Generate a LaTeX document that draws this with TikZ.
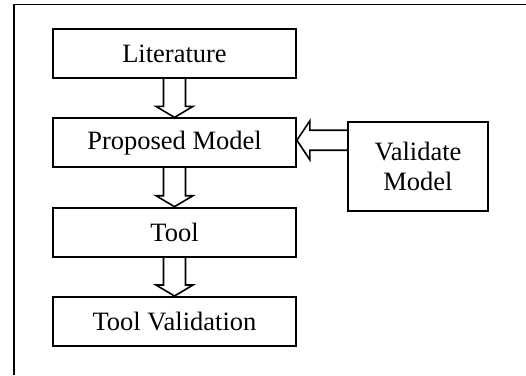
\documentclass[tikz,border=0pt]{standalone}
\usepackage{fontspec}
\setmainfont{Liberation Serif}
\usepackage{tikz}
\usetikzlibrary{positioning, calc}

% hollow arrow pointing down from one box to the next
\newcommand{\hollowdown}[2]{%
  \draw[hollow] ($(#1.south)+(-11,0)$) -- ($(#2.north)+(-11,11)$) -- ($(#2.north)+(-18.5,11)$)
    -- (#2.north) -- ($(#2.north)+(18.5,11)$) -- ($(#2.north)+(11,11)$) -- ($(#1.south)+(11,0)$);}

\begin{document}
\begin{tikzpicture}[
    x=1pt, y=1pt,
    box/.style={rectangle, draw, line width=1.8pt, minimum width=243pt, minimum height=49pt,
                font=\fontsize{26.5}{30}\selectfont, inner sep=2pt},
    hollow/.style={draw, line width=1.6pt, line join=miter},
    node distance=38.5pt
]
\useasboundingbox (0,0) rectangle (526,375);

% Outer frame (cut off at right and bottom)
\draw[line width=1.8pt] (14,0) -- (14,370.5) -- (526,370.5);

% Main flow
\node[box] (lit) at (174.5,321.5) {Literature};
\node[box, below=of lit] (prop) {Proposed Model};
\node[box, below=of prop] (tool) {Tool};
\node[box, below=of tool] (tval) {Tool Validation};

% Side box
\node[box, minimum width=140pt, minimum height=89pt, align=center] (valid) at (418,208.5) {Validate\\Model};

% Connections
\hollowdown{lit}{prop}
\hollowdown{prop}{tool}
\hollowdown{tool}{tval}
\draw[hollow] ($(valid.west |- prop.east)+(0,12.5)$) -- ($(prop.east)+(13,12.5)$) -- ($(prop.east)+(13,22)$)
    -- ($(prop.east)+(0,2.5)$) -- ($(prop.east)+(13,-17)$) -- ($(prop.east)+(13,-7.5)$)
    -- ($(valid.west |- prop.east)+(0,-7.5)$);

\end{tikzpicture}
\end{document}
